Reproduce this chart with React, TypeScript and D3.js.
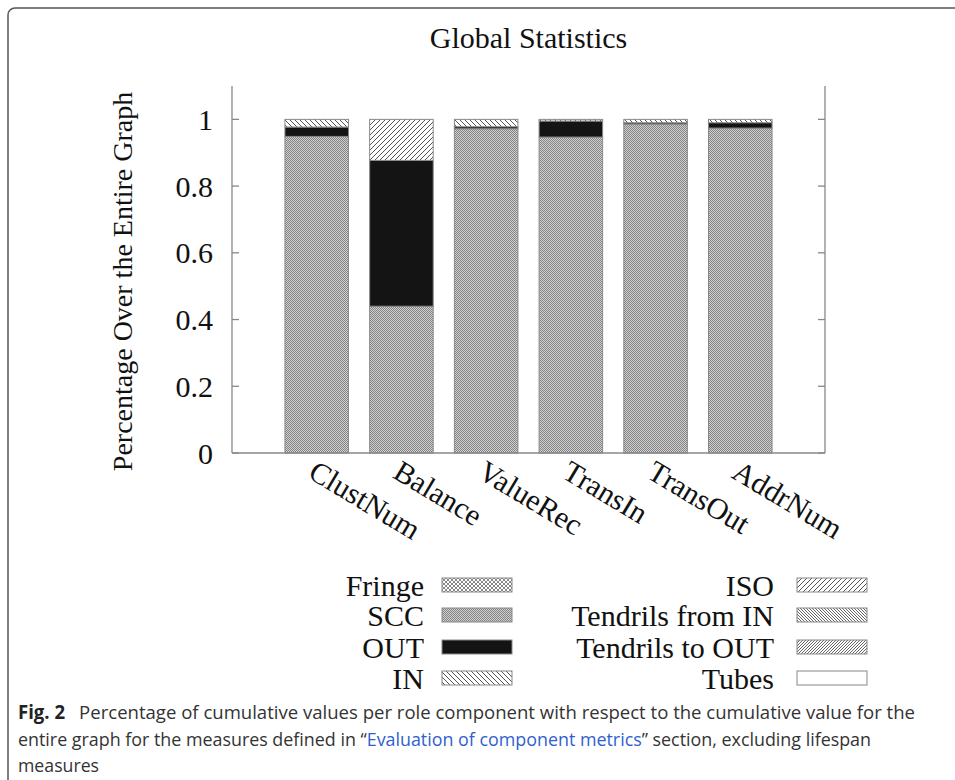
import React, { useEffect, useRef } from 'react';
import * as d3 from 'd3';

const categories = ['ClustNum', 'Balance', 'ValueRec', 'TransIn', 'TransOut', 'AddrNum'];
const roles = ['Fringe', 'SCC', 'OUT', 'IN', 'ISO', 'Tendrils from IN', 'Tendrils to OUT', 'Tubes'];
const fringe = [0, 0, 0, 0, 0, 0];
const scc = [0.949, 0.44, 0.972, 0.947, 0.986, 0.974];
const out = [0.028, 0.437, 0.006, 0.048, 0.004, 0.016];
const inn = [0.023, 0, 0.022, 0.005, 0.01, 0.01];
const iso = [0, 0.123, 0, 0, 0, 0];
const tendrilsFromIn = [0, 0, 0, 0, 0, 0];
const tendrilsToOut = [0, 0, 0, 0, 0, 0];
const tubes = [0, 0, 0, 0, 0, 0];
const yTicks = [0, 0.2, 0.4, 0.6, 0.8, 1];

const serif = '"Liberation Serif", "DejaVu Serif", serif';
const sans = '"Open Sans", "Noto Sans", sans-serif';

const App = () => {
	const ref = useRef<SVGSVGElement>(null);

	useEffect(() => {
		const svg = d3.select(ref.current);
		svg.selectAll('*').remove();

		const left = 232, right = 825, top = 86, bottom = 453;
		const fs = '30px';

		const defs = svg.append('defs');
		const pat = (id: string, size: number) =>
			defs.append('pattern').attr('id', id).attr('patternUnits', 'userSpaceOnUse')
				.attr('width', size).attr('height', size);

		// fine checker for SCC
		const pScc = pat('p-scc', 2);
		pScc.append('rect').attr('width', 2).attr('height', 2).attr('fill', '#cfcfcf');
		pScc.append('rect').attr('width', 1).attr('height', 1).attr('fill', '#858585');
		pScc.append('rect').attr('x', 1).attr('y', 1).attr('width', 1).attr('height', 1).attr('fill', '#858585');

		const pFringe = pat('p-fringe', 4);
		pFringe.append('rect').attr('width', 4).attr('height', 4).attr('fill', '#fff');
		pFringe.append('path').attr('d', 'M0,0L4,4M4,0L0,4').attr('stroke', '#888').attr('stroke-width', 1);

		const hatch = (id: string, size: number, back: boolean, color: string, w: number) => {
			const p = pat(id, size);
			p.append('rect').attr('width', size).attr('height', size).attr('fill', '#fff');
			const d = back
				? `M0,0L${size},${size}M${-size},0L${size},${2 * size}M0,${-size}L${2 * size},${size}`
				: `M0,${size}L${size},0M${-size},${size}L${size},${-size}M0,${2 * size}L${2 * size},0`;
			p.append('path').attr('d', d).attr('stroke', color).attr('stroke-width', w);
		};
		hatch('p-in', 5, true, '#555', 1);
		hatch('p-iso', 5, false, '#555', 1);
		hatch('p-tin', 3, true, '#666', 1);
		hatch('p-tout', 3, false, '#666', 1);

		const fills: Record<string, string> = {
			'Fringe': 'url(#p-fringe)',
			'SCC': 'url(#p-scc)',
			'OUT': '#141414',
			'IN': 'url(#p-in)',
			'ISO': 'url(#p-iso)',
			'Tendrils from IN': 'url(#p-tin)',
			'Tendrils to OUT': 'url(#p-tout)',
			'Tubes': '#fff',
		};

		// frame around the figure
		svg.append('rect')
			.attr('x', 8).attr('y', 8).attr('width', 1000).attr('height', 820)
			.attr('rx', 7).attr('fill', 'none').attr('stroke', '#555').attr('stroke-width', 1.5);

		const x = d3.scaleLinear().domain([-1, categories.length]).range([left, right]);
		const y = d3.scaleLinear().domain([0, 1.1]).range([bottom, top]);
		const barW = (x(1) - x(0)) * 0.75;

		const table = categories.map((c, i) => ({
			cat: c,
			'Fringe': fringe[i], 'SCC': scc[i], 'OUT': out[i], 'IN': inn[i], 'ISO': iso[i],
			'Tendrils from IN': tendrilsFromIn[i], 'Tendrils to OUT': tendrilsToOut[i], 'Tubes': tubes[i],
		}));
		const series = d3.stack<any>().keys(roles)(table);

		series.forEach((s) => {
			svg.append('g').selectAll('rect').data(s).join('rect')
				.attr('x', (d, i) => x(i) - barW / 2)
				.attr('width', barW)
				.attr('y', d => y(d[1]))
				.attr('height', d => y(d[0]) - y(d[1]))
				.attr('fill', fills[s.key])
				.attr('stroke', d => (d[1] - d[0] > 0 ? '#888' : 'none'))
				.attr('stroke-width', 1);
		});

		// axes: left, right, bottom with inward ticks
		const ax = svg.append('g').attr('stroke', '#888').attr('stroke-width', 1.3);
		ax.append('line').attr('x1', left).attr('x2', left).attr('y1', top).attr('y2', bottom);
		ax.append('line').attr('x1', right).attr('x2', right).attr('y1', top).attr('y2', bottom);
		ax.append('line').attr('x1', left).attr('x2', right).attr('y1', bottom).attr('y2', bottom);
		yTicks.forEach(t => {
			ax.append('line').attr('x1', left).attr('x2', left + 7).attr('y1', y(t)).attr('y2', y(t));
			ax.append('line').attr('x1', right).attr('x2', right - 7).attr('y1', y(t)).attr('y2', y(t));
		});

		svg.append('g').selectAll('text').data(yTicks).join('text')
			.attr('x', 213).attr('y', d => y(d)).attr('dy', '0.35em')
			.attr('text-anchor', 'end')
			.style('font-family', serif).style('font-size', fs).attr('fill', '#111')
			.text(d => String(+d.toFixed(1)));

		svg.append('g').selectAll('text').data(categories).join('text')
			.attr('transform', (d, i) => `translate(${x(i) - 10},${bottom + 24}) rotate(31)`)
			.style('font-family', serif).style('font-size', fs).attr('fill', '#111')
			.text(d => d);

		svg.append('text')
			.attr('x', (left + right) / 2).attr('y', 48).attr('text-anchor', 'middle')
			.style('font-family', serif).style('font-size', fs).attr('fill', '#111')
			.text('Global Statistics');

		svg.append('text')
			.attr('transform', `translate(132,${(top + bottom) / 2 + 12}) rotate(-90)`)
			.attr('text-anchor', 'middle')
			.style('font-family', serif).style('font-size', '28px').attr('fill', '#111')
			.text('Percentage Over the Entire Graph');

		// legend in two columns
		const rowY = [585, 615, 647, 678];
		roles.forEach((r, i) => {
			const col = Math.floor(i / 4);
			const cy = rowY[i % 4];
			const lx = col === 0 ? 424 : 774;
			const sx = col === 0 ? 442 : 797;
			svg.append('text')
				.attr('x', lx).attr('y', cy).attr('dy', '0.35em').attr('text-anchor', 'end')
				.style('font-family', serif).style('font-size', fs).attr('fill', '#111')
				.text(r);
			svg.append('rect')
				.attr('x', sx).attr('y', cy - 7).attr('width', 70).attr('height', 14)
				.attr('fill', fills[r]).attr('stroke', '#888').attr('stroke-width', 1);
		});

		// caption, each line squeezed to the reference width
		const cap = svg.append('g').style('font-family', sans).style('font-size', '19px').attr('fill', '#333');
		const line = (x0: number, x1: number, yy: number) =>
			cap.append('text').attr('x', x0).attr('y', yy).attr('textLength', x1 - x0)
				.attr('lengthAdjust', 'spacingAndGlyphs');
		const l1 = line(18, 915, 719);
		l1.append('tspan').style('font-weight', 'bold').attr('fill', '#222').text('Fig. 2');
		l1.append('tspan').text('\u2002 Percentage of cumulative values per role component with respect to the cumulative value for the');
		const l2 = line(18, 871, 746);
		l2.append('tspan').text('entire graph for the measures defined in \u201C');
		l2.append('tspan').attr('fill', '#2f5fd0').text('Evaluation of component metrics');
		l2.append('tspan').text('\u201D section, excluding lifespan');
		line(18, 99, 772).text('measures');
	}, []);

	return (
		<svg ref={ref} width={955} height={780}
			style={{ position: 'absolute', left: 0, top: 0, background: '#fff' }} />
	);
};

export default App;
